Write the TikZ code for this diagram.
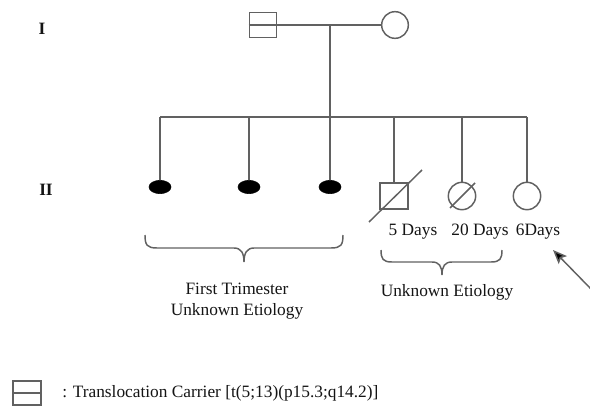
\documentclass[tikz,border=0pt]{standalone}
\usepackage{fontspec}
\setmainfont{Liberation Serif}
\usetikzlibrary{arrows.meta,shapes.geometric}
\begin{document}
\begin{tikzpicture}[x=0.75pt,y=-0.75pt,
  ln/.style={draw=black!62,line width=1.1pt},
  lbl/.style={inner sep=0pt,text=black!92,font=\fontsize{13}{15.6}\selectfont},
  male/.style={ln,rectangle,minimum width=21pt,minimum height=19.5pt,inner sep=0pt},
  female/.style={ln,circle,minimum size=20.5pt,inner sep=0pt},
  aborted/.style={ellipse,fill=black,draw=black,minimum width=16.5pt,minimum height=10pt,inner sep=0pt}]
\useasboundingbox (0,0) rectangle (590,407);
% generation labels
\node[lbl,font=\fontsize{13}{15.6}\selectfont\bfseries] (gI) at (42,29) {I};
\node[lbl,font=\fontsize{13}{15.6}\selectfont\bfseries] (gII) at (46,190) {II};
% parents
\node[male,minimum width=20.5pt,minimum height=18.5pt] (fa) at (263,25) {};
\draw[ln] (fa.west) -- (fa.east);
\node[female,minimum size=20pt] (mo) at (395,25) {};
\coordinate (mid) at (330,25);
\coordinate (sib) at (330,117);
\draw[ln] (fa.east) -- (mo.west);
\draw[ln] (mid) -- (sib);
% children
\node[aborted] (c1) at (160,187) {};
\node[aborted] (c2) at (249,187) {};
\node[aborted] (c3) at (330,187) {};
\node[male] (c4) at (394,196) {};
\node[female] (c5) at (462,196) {};
\node[female] (c6) at (527,196) {};
\draw[ln] (c1.north |- sib) -- (c6.north |- sib);
\foreach \c in {c1,c2,c3,c4,c5,c6} \draw[ln] (\c.north |- sib) -- (\c.north);
% deceased slashes
\coordinate (d4a) at (369,222); \coordinate (d4b) at (422,170);
\draw[ln] (d4a) -- (d4b);
\coordinate (d5a) at (450,208); \coordinate (d5b) at (475,183);
\draw[ln] (d5a) -- (d5b);
% ages
\node[lbl] (a4) at (413,232) {5 Days};
\node[lbl] (a5) at (480,232) {20 Days};
\node[lbl] (a6) at (538,232) {6Days};
% braces
\draw[ln] (145,235) .. controls (145,245) and (147,248) .. (157,248) -- (234,248)
  .. controls (241,248) and (244,253) .. (244,262)
  .. controls (244,253) and (247,248) .. (254,248) -- (331,248)
  .. controls (341,248) and (343,245) .. (343,235);
\draw[ln] (381,250) .. controls (381,259) and (383,262) .. (392,262) -- (432,262)
  .. controls (439,262) and (442,266) .. (442,275)
  .. controls (442,266) and (445,262) .. (452,262) -- (491,262)
  .. controls (500,262) and (502,259) .. (502,250);
\node[lbl,align=center] (t1) at (237,301) {First Trimester\\Unknown Etiology};
\node[lbl] (t2) at (447,292) {Unknown Etiology};
% proband arrow
\coordinate (pa) at (591,289);
\coordinate (pb) at (553,250);
\draw[ln,-{Stealth[length=10.5pt,width=8.5pt,inset=2pt,fill=black]}] (pa) -- (pb);
% legend
\node[male,minimum width=21pt,minimum height=18pt] (lg) at (27,393) {};
\draw[ln] (lg.west) -- (lg.east);
\node[lbl,anchor=west] (lt) at (62,393) {: Translocation Carrier [t(5;13)(p15.3;q14.2)]};
\end{tikzpicture}
\end{document}
